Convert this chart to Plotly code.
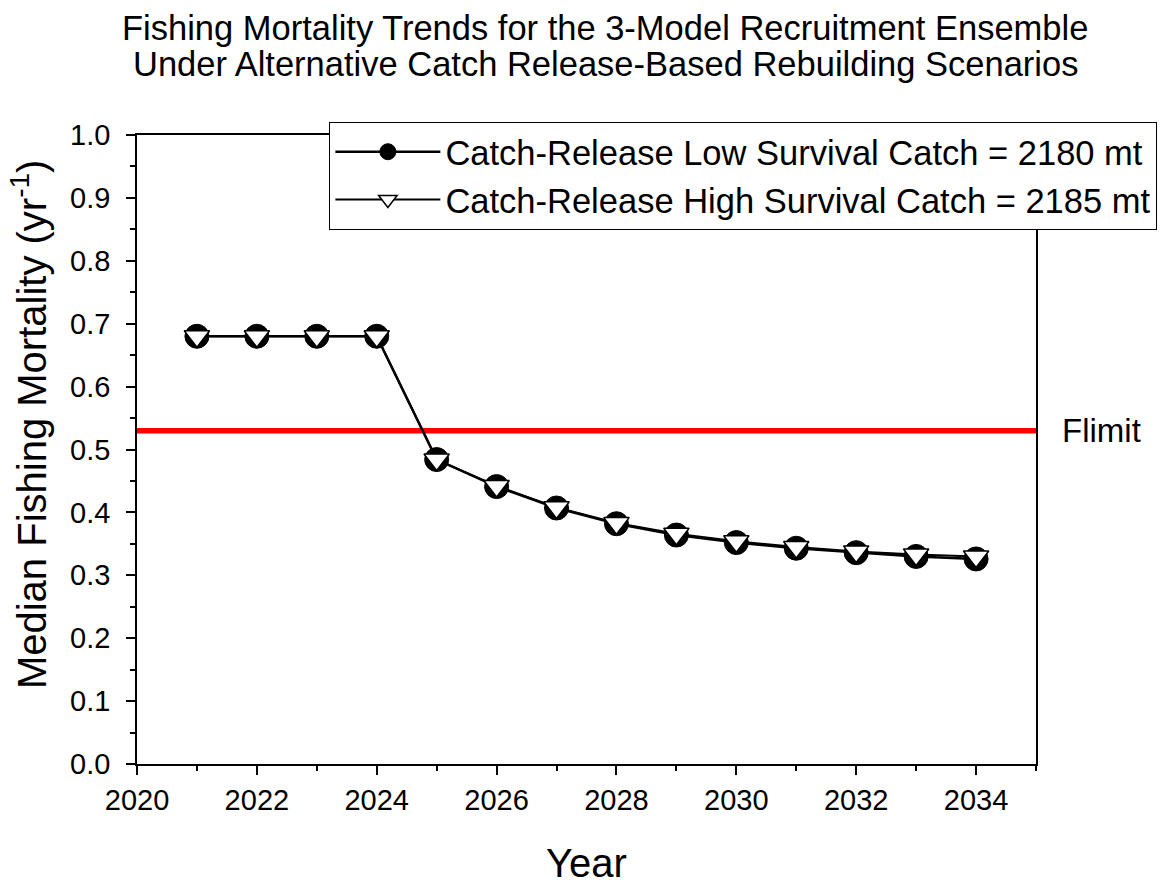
import plotly.graph_objects as go

# Projection years and median fishing mortality for each catch-release scenario
years = [2021, 2022, 2023, 2024, 2025, 2026, 2027, 2028, 2029, 2030, 2031, 2032, 2033, 2034]
f_low_survival = [0.680, 0.680, 0.680, 0.680, 0.484, 0.441, 0.407, 0.382, 0.364, 0.352, 0.343, 0.336, 0.330, 0.326]
f_high_survival = [0.680, 0.680, 0.680, 0.680, 0.484, 0.442, 0.408, 0.383, 0.366, 0.354, 0.345, 0.338, 0.333, 0.330]
f_limit = 0.53

name_low = "Catch-Release Low Survival Catch = 2180 mt"
name_high = "Catch-Release High Survival Catch = 2185 mt"
title_lines = [
    "Fishing Mortality Trends for the 3-Model Recruitment Ensemble",
    "Under Alternative Catch Release-Based Rebuilding Scenarios",
]
y_title = "Median Fishing Mortality (yr<sup>-1</sup>)"

FONT = "Arial, Liberation Sans, sans-serif"

fig = go.Figure()

fig.add_trace(go.Scatter(
    x=years, y=f_low_survival, name=name_low, mode="lines+markers",
    line=dict(color="black", width=2.5),
    marker=dict(symbol="circle", size=24, color="black",
                line=dict(color="black", width=1)),
))
fig.add_trace(go.Scatter(
    x=years, y=f_high_survival, name=name_high, mode="lines+markers",
    line=dict(color="black", width=2),
    marker=dict(symbol="triangle-down", size=22, color="white",
                line=dict(color="black", width=1.5)),
))

# Reference fishing mortality limit
fig.add_shape(type="line", xref="paper", x0=0, x1=1, yref="y", y0=f_limit, y1=f_limit,
              line=dict(color="#ff0000", width=5.5), layer="below")
fig.add_annotation(text="Flimit", xref="paper", x=1.0, xshift=24, xanchor="left",
                   y=f_limit, yref="y", showarrow=False,
                   font=dict(family=FONT, size=33, color="black"))

# Two-line heading, placed line by line for tight spacing
for i, line in enumerate(title_lines):
    fig.add_annotation(text=line, xref="paper", x=0.521, xanchor="center",
                       yref="paper", y=1.170 - i * 0.057, yanchor="middle",
                       showarrow=False, font=dict(family=FONT, size=34.5, color="black"))

# Vertical axis title
fig.add_annotation(text=y_title, xref="paper", x=-0.12, xanchor="center",
                   yref="paper", y=0.539, yanchor="middle", textangle=-90,
                   showarrow=False, font=dict(family=FONT, size=40, color="black"))

fig.update_layout(
    width=1167, height=886,
    paper_bgcolor="white", plot_bgcolor="white",
    margin=dict(l=137, r=131, t=135, b=122, autoexpand=False),
    font=dict(family=FONT, color="black"),
    showlegend=True,
    legend=dict(
        x=0.214, xanchor="left", y=1.021, yanchor="top",
        bgcolor="white", bordercolor="black", borderwidth=1,
        font=dict(family=FONT, size=34.5, color="black"),
        itemsizing="trace", itemwidth=105, tracegroupgap=0,
    ),
)

fig.update_xaxes(
    range=[2020, 2035], tickmode="linear", tick0=2020, dtick=2,
    ticks="outside", ticklen=9, tickwidth=1.5, tickcolor="black",
    showline=True, linecolor="black", linewidth=1.5, mirror=True,
    showgrid=False, zeroline=False,
    tickfont=dict(family=FONT, size=29, color="black"),
    minor=dict(ticks="outside", dtick=1, ticklen=5, tickwidth=1.5, tickcolor="black", showgrid=False),
    title=dict(text="Year", font=dict(family=FONT, size=40, color="black"), standoff=34),
)
fig.update_yaxes(
    range=[0, 1.0], tickmode="linear", tick0=0, dtick=0.1, tickformat=".1f",
    ticks="outside", ticklen=9, tickwidth=1.5, tickcolor="black",
    showline=True, linecolor="black", linewidth=1.5, mirror=True,
    showgrid=False, zeroline=False, ticklabelstandoff=10,
    tickfont=dict(family=FONT, size=29, color="black"),
    minor=dict(ticks="outside", dtick=0.05, ticklen=5, tickwidth=1.5, tickcolor="black", showgrid=False),
)

fig.write_html("out.html")
